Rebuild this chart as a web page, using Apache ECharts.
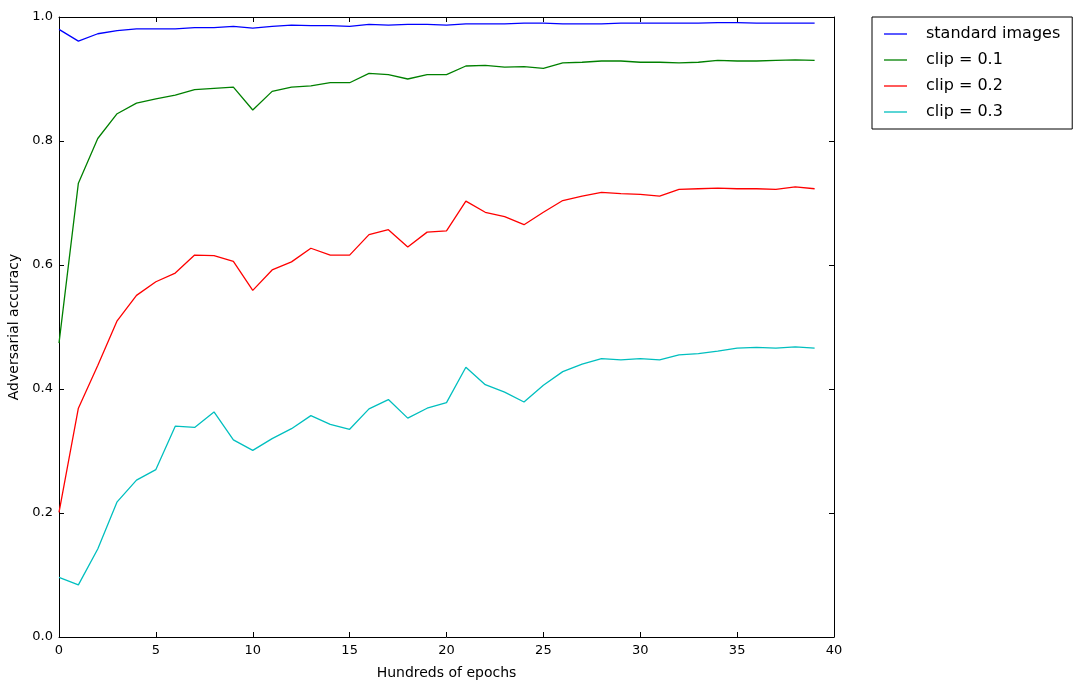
<!DOCTYPE html>
<html>
<head>
    <meta charset="utf-8">
    <title>Adversarial accuracy</title>
    <script src="https://cdn.jsdelivr.net/npm/echarts@6/dist/echarts.min.js"></script>
    <style>
        body { margin: 0; background: #fff; }
    </style>
</head>
<body>
<div id="main" style="width: 1081px;height:687px;"></div>
<script>
    // hundreds of epochs
    var epochs = [0, 1, 2, 3, 4, 5, 6, 7, 8, 9, 10, 11, 12, 13, 14, 15, 16, 17, 18, 19,
        20, 21, 22, 23, 24, 25, 26, 27, 28, 29, 30, 31, 32, 33, 34, 35, 36, 37, 38, 39];

    var standardImages = [0.980, 0.961, 0.973, 0.978, 0.981, 0.981, 0.981, 0.983, 0.983, 0.985,
        0.982, 0.985, 0.987, 0.986, 0.986, 0.985, 0.988, 0.987, 0.988, 0.988,
        0.987, 0.989, 0.989, 0.989, 0.990, 0.990, 0.989, 0.989, 0.989, 0.990,
        0.990, 0.990, 0.990, 0.990, 0.991, 0.991, 0.990, 0.990, 0.990, 0.990];

    var clip01 = [0.474, 0.732, 0.804, 0.844, 0.861, 0.868, 0.874, 0.883, 0.885, 0.887,
        0.850, 0.880, 0.887, 0.889, 0.894, 0.894, 0.909, 0.907, 0.900, 0.907,
        0.907, 0.921, 0.922, 0.919, 0.920, 0.917, 0.926, 0.927, 0.929, 0.929,
        0.927, 0.927, 0.926, 0.927, 0.930, 0.929, 0.929, 0.930, 0.931, 0.930];

    var clip02 = [0.201, 0.369, 0.438, 0.510, 0.551, 0.573, 0.587, 0.616, 0.615, 0.606,
        0.559, 0.592, 0.605, 0.627, 0.616, 0.616, 0.649, 0.657, 0.629, 0.653,
        0.655, 0.703, 0.685, 0.678, 0.665, 0.685, 0.704, 0.711, 0.717, 0.715,
        0.714, 0.711, 0.722, 0.723, 0.724, 0.723, 0.723, 0.722, 0.726, 0.723];

    var clip03 = [0.096, 0.084, 0.142, 0.218, 0.253, 0.270, 0.340, 0.338, 0.363, 0.318,
        0.301, 0.320, 0.336, 0.357, 0.343, 0.335, 0.368, 0.383, 0.353, 0.369,
        0.378, 0.435, 0.407, 0.395, 0.379, 0.406, 0.428, 0.440, 0.449, 0.447,
        0.449, 0.447, 0.455, 0.457, 0.461, 0.466, 0.467, 0.466, 0.468, 0.466];

    var names = ['standard images', 'clip = 0.1', 'clip = 0.2', 'clip = 0.3'];
    var colors = ['#0000ff', '#008000', '#ff0000', '#00bfbf'];
    var values = [standardImages, clip01, clip02, clip03];

    function pairs(ys) {
        var out = [];
        for (var i = 0; i < epochs.length; i++) {
            out.push([epochs[i], ys[i]]);
        }
        return out;
    }

    var font = 'DejaVu Sans';
    var tick = { show: true, inside: true, length: 5, lineStyle: { color: '#000', width: 1 } };
    var line = { show: true, onZero: false, lineStyle: { color: '#000', width: 1 } };

    var series = [];
    for (var k = 0; k < names.length; k++) {
        series.push({
            name: names[k],
            type: 'line',
            data: pairs(values[k]),
            symbol: 'none',
            animation: false,
            color: colors[k],
            lineStyle: { width: 1.3, color: colors[k] }
        });
    }

    var myChart = echarts.init(document.getElementById('main'));
    myChart.setOption({
        backgroundColor: '#fff',
        animation: false,
        textStyle: { fontFamily: font },
        grid: { left: 59, right: 247, top: 17, bottom: 50, containLabel: false, outerBoundsMode: 'none' },
        legend: {
            orient: 'vertical',
            left: 872,
            top: 17,
            width: 201,
            padding: [9, 12, 9, 12],
            icon: 'rect',
            itemWidth: 23,
            itemHeight: 1.3,
            itemGap: 10,
            borderColor: '#000',
            borderWidth: 1,
            data: names,
            textStyle: { fontFamily: font, fontSize: 16, color: '#000', padding: [0, 20, 0, 14] }
        },
        xAxis: [{
            type: 'value',
            min: 0, max: 40, interval: 5,
            name: 'Hundreds of epochs',
            nameLocation: 'middle',
            nameGap: 29,
            nameTextStyle: { fontFamily: font, fontSize: 14, color: '#000' },
            axisLine: line,
            axisTick: tick,
            axisLabel: { fontFamily: font, fontSize: 13, color: '#000', margin: 7 },
            splitLine: { show: false }
        }, {
            type: 'value',
            position: 'top',
            min: 0, max: 40, interval: 5,
            axisLine: line,
            axisTick: tick,
            axisLabel: { show: false },
            splitLine: { show: false }
        }],
        yAxis: [{
            type: 'value',
            min: 0, max: 1, interval: 0.2,
            name: 'Adversarial accuracy',
            nameLocation: 'middle',
            nameGap: 35,
            nameTextStyle: { fontFamily: font, fontSize: 14, color: '#000' },
            axisLine: line,
            axisTick: tick,
            axisLabel: {
                fontFamily: font, fontSize: 13, color: '#000', margin: 6,
                formatter: function (v) { return v.toFixed(1); }
            },
            splitLine: { show: false }
        }, {
            type: 'value',
            position: 'right',
            min: 0, max: 1, interval: 0.2,
            axisLine: line,
            axisTick: tick,
            axisLabel: { show: false },
            splitLine: { show: false }
        }],
        series: series
    });
</script>
</body>
</html>
